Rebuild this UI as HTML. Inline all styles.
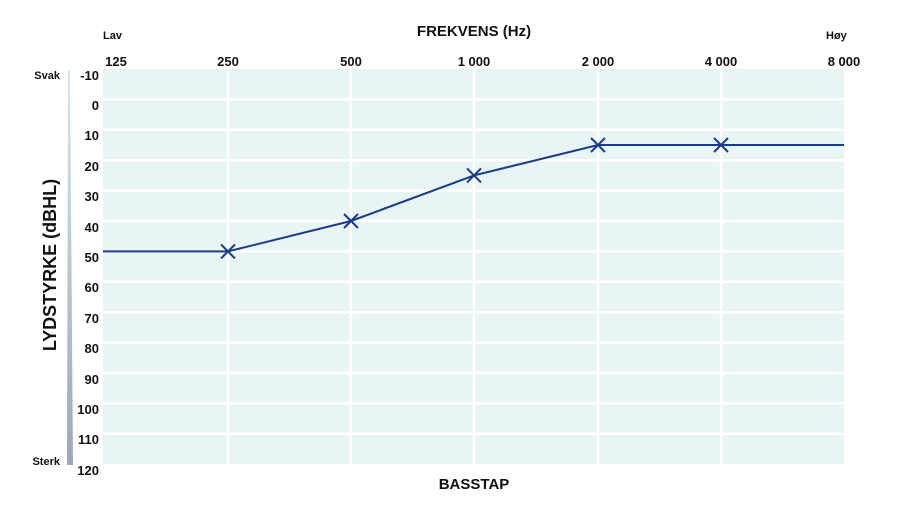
<!DOCTYPE html>
<html><head><meta charset="utf-8"><style>
html,body{margin:0;padding:0;background:#fff;}
svg{display:block;font-family:"Liberation Sans",sans-serif;font-weight:bold;}
</style></head><body>
<svg width="900" height="506" viewBox="0 0 900 506" xmlns="http://www.w3.org/2000/svg">
<defs>
<linearGradient id="g" x1="0" y1="0" x2="0" y2="1">
<stop offset="0" stop-color="#d6e6f2"/><stop offset="1" stop-color="#9aa8b8"/>
</linearGradient>
</defs>
<rect x="103" y="69" width="741" height="395" fill="#e9f5f4"/>
<g stroke="#fff" stroke-width="2.5">
<line x1="228" y1="69" x2="228" y2="464"/>
<line x1="351" y1="69" x2="351" y2="464"/>
<line x1="474" y1="69" x2="474" y2="464"/>
<line x1="598" y1="69" x2="598" y2="464"/>
<line x1="721" y1="69" x2="721" y2="464"/>
<line x1="103" y1="99.4" x2="844" y2="99.4"/>
<line x1="103" y1="129.8" x2="844" y2="129.8"/>
<line x1="103" y1="160.2" x2="844" y2="160.2"/>
<line x1="103" y1="190.6" x2="844" y2="190.6"/>
<line x1="103" y1="221" x2="844" y2="221"/>
<line x1="103" y1="251.4" x2="844" y2="251.4"/>
<line x1="103" y1="281.8" x2="844" y2="281.8"/>
<line x1="103" y1="312.2" x2="844" y2="312.2"/>
<line x1="103" y1="342.6" x2="844" y2="342.6"/>
<line x1="103" y1="373" x2="844" y2="373"/>
<line x1="103" y1="403.4" x2="844" y2="403.4"/>
<line x1="103" y1="433.8" x2="844" y2="433.8"/>
</g>
<polygon points="68,70 70,70 73,465 67,465" fill="url(#g)"/>
<polyline points="103,251.4 228,251.4 351,221 474,175.4 598,145 721,145 844,145" fill="none" stroke="#1a3a8a" stroke-width="2"/>
<g stroke="#1a3a8a" stroke-width="2">
<path d="M221,244.4l14,14M235,244.4l-14,14"/>
<path d="M344,214l14,14M358,214l-14,14"/>
<path d="M467,168.4l14,14M481,168.4l-14,14"/>
<path d="M591,138l14,14M605,138l-14,14"/>
<path d="M714,138l14,14M728,138l-14,14"/>
</g>
<g font-size="13" fill="#111" text-anchor="middle">
<text x="116" y="66">125</text><text x="228" y="66">250</text><text x="351" y="66">500</text>
<text x="474" y="66">1 000</text><text x="598" y="66">2 000</text><text x="721" y="66">4 000</text><text x="844" y="66">8 000</text>
</g>
<text x="474" y="36" font-size="15" text-anchor="middle" fill="#111">FREKVENS (Hz)</text>
<text x="474" y="489" font-size="15" text-anchor="middle" fill="#111">BASSTAP</text>
<text x="103" y="39" font-size="11" fill="#111">Lav</text>
<text x="826" y="39" font-size="11" fill="#111">Høy</text>
<text x="60" y="79" font-size="11" text-anchor="end" fill="#111">Svak</text>
<text x="60" y="465" font-size="11" text-anchor="end" fill="#111">Sterk</text>
<g font-size="13" fill="#111" text-anchor="end">
<text x="99" y="80">-10</text><text x="99" y="110">0</text><text x="99" y="140">10</text>
<text x="99" y="171">20</text><text x="99" y="201">30</text><text x="99" y="232">40</text>
<text x="99" y="262">50</text><text x="99" y="292">60</text><text x="99" y="323">70</text>
<text x="99" y="353">80</text><text x="99" y="384">90</text><text x="99" y="414">100</text>
<text x="99" y="444">110</text><text x="99" y="475">120</text>
</g>
<text transform="translate(56,265) rotate(-90)" font-size="18" text-anchor="middle" fill="#111">LYDSTYRKE (dBHL)</text>
</svg>
</body></html>
